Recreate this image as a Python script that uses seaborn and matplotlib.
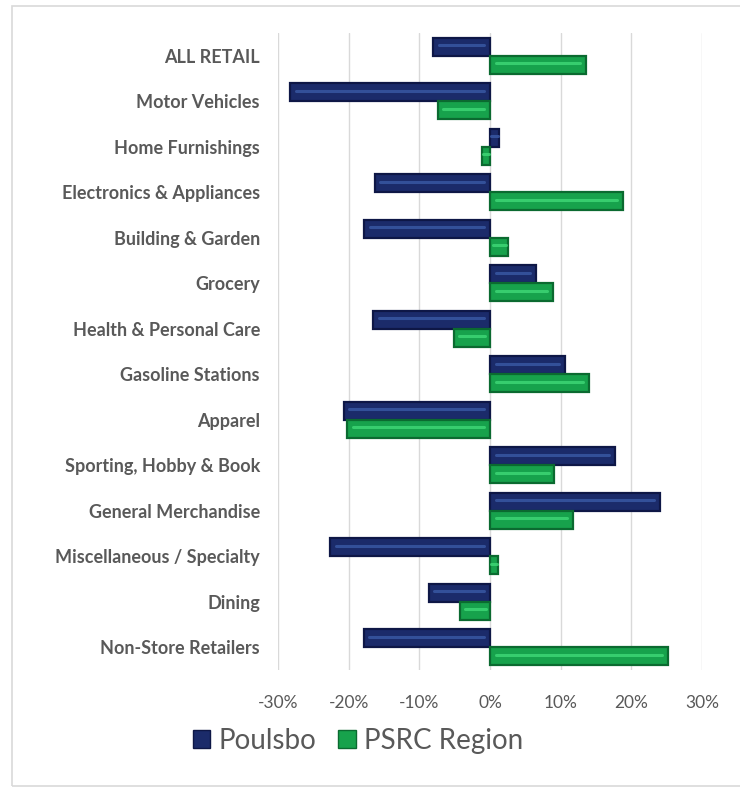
import matplotlib
matplotlib.use("Agg")
import matplotlib.pyplot as plt
from matplotlib.patches import Rectangle, Patch
from matplotlib.ticker import FuncFormatter, MultipleLocator
import seaborn as sns
import pandas as pd

categories = [
    "ALL RETAIL", "Motor Vehicles", "Home Furnishings", "Electronics & Appliances",
    "Building & Garden", "Grocery", "Health & Personal Care", "Gasoline Stations",
    "Apparel", "Sporting, Hobby & Book", "General Merchandise",
    "Miscellaneous / Specialty", "Dining", "Non-Store Retailers",
]
poulsbo = [-8.0, -28.3, 1.3, -16.3, -17.8, 6.5, -16.5, 10.6, -20.7, 17.7, 24.0, -22.6, -8.7, -17.9]
psrc = [13.6, -7.4, -1.2, 18.8, 2.6, 8.9, -5.1, 14.0, -20.2, 9.1, 11.7, 1.1, -4.2, 25.2]
series = ["Poulsbo", "PSRC Region"]

df = pd.DataFrame({
    "category": categories * 2,
    "series": [series[0]] * len(categories) + [series[1]] * len(categories),
    "value": poulsbo + psrc,
})

sns.set_theme(style="white")
plt.rcParams["font.family"] = ["Lato", "DejaVu Sans"]

fill = {"Poulsbo": "#1b2b6a", "PSRC Region": "#17a24c"}
edge = {"Poulsbo": "#0e1746", "PSRC Region": "#0b6a30"}
shine = {"Poulsbo": "#3a5aa6", "PSRC Region": "#40d877"}
text_col = "#595959"

fig = plt.figure(figsize=(7.4, 7.94), dpi=100)
ax = fig.add_axes([278 / 740, 1 - 670 / 794, 424 / 740, 637 / 794])

sns.barplot(data=df, y="category", x="value", hue="series", orient="h",
            order=categories, hue_order=series, palette=fill, width=0.8,
            saturation=1, ax=ax, legend=False)

# bevelled look: darker rim plus a light streak along each bar
for container, name in zip(ax.containers, series):
    for bar in container:
        bar.set_edgecolor(edge[name])
        bar.set_linewidth(1.6)
        x0, y0 = bar.get_x(), bar.get_y()
        w, h = bar.get_width(), bar.get_height()
        lo, hi = min(x0, x0 + w), max(x0, x0 + w)
        inset = min(0.8, (hi - lo) * 0.15)
        ax.plot([lo + inset, hi - inset], [y0 + h * 0.42] * 2,
                color=shine[name], lw=2.2, alpha=0.8,
                solid_capstyle="round", zorder=3)

ax.set_xlim(-30, 30)
ax.set_ylim(len(categories) - 0.5, -0.5)
ax.xaxis.set_major_locator(MultipleLocator(10))
ax.xaxis.set_major_formatter(FuncFormatter(lambda v, _: f"{v:.0f}%"))
ax.grid(axis="x", color="#d9d9d9", lw=1)
ax.set_axisbelow(True)
for s in ax.spines.values():
    s.set_visible(False)
ax.set_xlabel("")
ax.set_ylabel("")
ax.tick_params(axis="y", length=0, pad=13, labelsize=13, labelcolor=text_col)
ax.tick_params(axis="x", length=0, pad=18, labelsize=12.5, labelcolor=text_col)
for lbl in ax.get_yticklabels():
    lbl.set_fontweight("bold")

handles = [Patch(facecolor=fill[s], edgecolor=edge[s], label=s) for s in series]
leg = fig.legend(handles=handles, loc="center", ncol=2, frameon=False,
                 bbox_to_anchor=(358 / 740, 1 - 741 / 794), fontsize=20,
                 handlelength=0.62, handleheight=0.62, handletextpad=0.3,
                 columnspacing=0.8)
for t in leg.get_texts():
    t.set_color(text_col)

# chart-area frame
fig.patches.append(Rectangle((12 / 740, 8 / 794), 1.0, 1 - 14 / 794,
                             transform=fig.transFigure, fill=False,
                             edgecolor="#d9d9d9", lw=1.2))

fig.savefig("out.png", dpi=100)
